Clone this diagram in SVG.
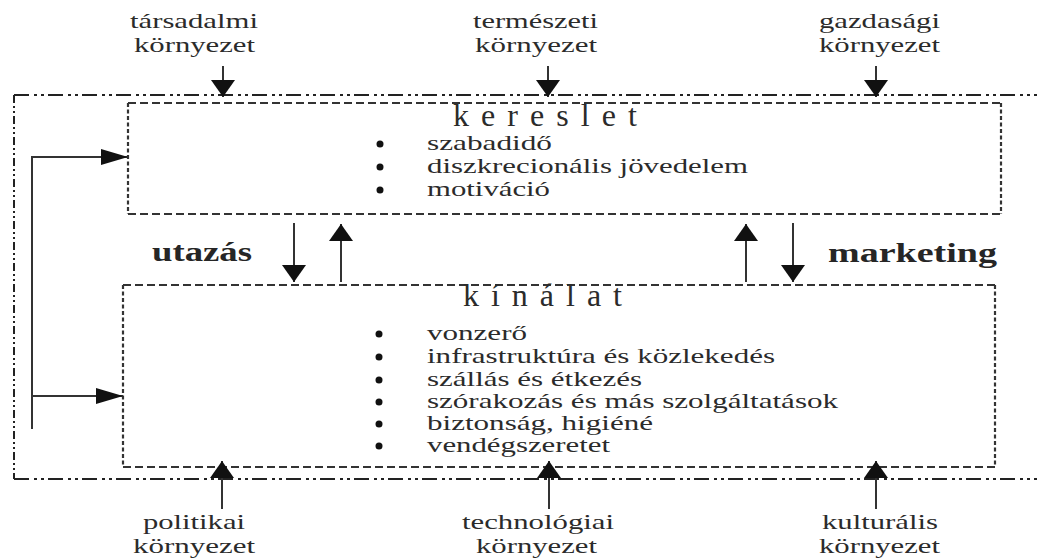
<svg xmlns="http://www.w3.org/2000/svg" width="1037" height="559" viewBox="0 0 1037 559">
<style>
text{font-family:"Liberation Serif","Times New Roman",serif;fill:#2b2b2b}
.lbl{font-size:22px}
.item{font-size:21px}
.title{font-size:32px}
.bold{font-size:28px;font-weight:bold;fill:#262626}
.outer-h{stroke:#222;stroke-width:2;fill:none;stroke-dasharray:15 5 3 4 3 4}
.outer-v{stroke:#222;stroke-width:2;fill:none;stroke-dasharray:8 3 2 3 2 3}
.box-h{stroke:#333;stroke-width:2;fill:none;stroke-dasharray:8 4}
.box-v{stroke:#333;stroke-width:2.2;fill:none;stroke-dasharray:4 2.5}
.arr{stroke:#333;stroke-width:2;fill:none}
.av{marker-end:url(#ahv)}
.ah{marker-end:url(#ahh)}
.dot{fill:#111}
</style>
<defs>
<marker id="ahv" markerUnits="userSpaceOnUse" markerWidth="17" markerHeight="24" refX="17" refY="12" orient="auto" viewBox="0 0 17 24">
<path d="M0,0 L17,12 L0,24 z" fill="#111"/>
</marker>
<marker id="ahh" markerUnits="userSpaceOnUse" markerWidth="27" markerHeight="16" refX="27" refY="8" orient="auto" viewBox="0 0 27 16">
<path d="M0,0 L27,8 L0,16 z" fill="#111"/>
</marker>
</defs>
<rect width="1037" height="559" fill="#fff"/>

<g id="environment">
<line class="outer-h" x1="14" y1="95" x2="1037" y2="95"/>
<line class="outer-h" x1="14" y1="479" x2="1037" y2="479"/>
<line class="outer-v" x1="14" y1="95" x2="14" y2="479"/>
</g>

<g id="tarsadalmi">
<text class="lbl" x="130" y="28" textLength="128" lengthAdjust="spacingAndGlyphs">társadalmi</text>
<text class="lbl" x="134" y="52" textLength="121" lengthAdjust="spacingAndGlyphs">környezet</text>
</g>
<g id="termeszeti">
<text class="lbl" x="473" y="28" textLength="125" lengthAdjust="spacingAndGlyphs">természeti</text>
<text class="lbl" x="475" y="52" textLength="122" lengthAdjust="spacingAndGlyphs">környezet</text>
</g>
<g id="gazdasagi">
<text class="lbl" x="819" y="28" textLength="121" lengthAdjust="spacingAndGlyphs">gazdasági</text>
<text class="lbl" x="819" y="52" textLength="121" lengthAdjust="spacingAndGlyphs">környezet</text>
</g>
<g id="politikai">
<text class="lbl" x="143" y="529" textLength="102" lengthAdjust="spacingAndGlyphs">politikai</text>
<text class="lbl" x="133" y="553" textLength="122" lengthAdjust="spacingAndGlyphs">környezet</text>
</g>
<g id="technologiai">
<text class="lbl" x="462" y="529" textLength="152" lengthAdjust="spacingAndGlyphs">technológiai</text>
<text class="lbl" x="476" y="553" textLength="121" lengthAdjust="spacingAndGlyphs">környezet</text>
</g>
<g id="kulturalis">
<text class="lbl" x="822" y="529" textLength="116" lengthAdjust="spacingAndGlyphs">kulturális</text>
<text class="lbl" x="819" y="553" textLength="121" lengthAdjust="spacingAndGlyphs">környezet</text>
</g>

<g id="kereslet">
<line class="box-h" x1="128" y1="103" x2="1001" y2="103"/>
<line class="box-h" x1="128" y1="214" x2="1001" y2="214"/>
<line class="box-v" x1="128" y1="103" x2="128" y2="214"/>
<line class="box-v" x1="1001" y1="103" x2="1001" y2="214"/>
<text class="title" x="453" y="126" textLength="184">kereslet</text>
<circle class="dot" cx="380" cy="144" r="3.5"/>
<circle class="dot" cx="380" cy="167" r="3.5"/>
<circle class="dot" cx="380" cy="190" r="3.5"/>
<text class="item" x="427" y="150" textLength="125" lengthAdjust="spacingAndGlyphs">szabadidő</text>
<text class="item" x="427" y="173" textLength="321" lengthAdjust="spacingAndGlyphs">diszkrecionális jövedelem</text>
<text class="item" x="427" y="196" textLength="123" lengthAdjust="spacingAndGlyphs">motiváció</text>
</g>

<g id="kinalat">
<line class="box-h" x1="123" y1="285" x2="995" y2="285"/>
<line class="box-h" x1="123" y1="467" x2="995" y2="467"/>
<line class="box-v" x1="123" y1="285" x2="123" y2="467"/>
<line class="box-v" x1="995" y1="285" x2="995" y2="467"/>
<text class="title" x="463" y="306" textLength="159">kínálat</text>
<circle class="dot" cx="379" cy="334" r="3.5"/>
<circle class="dot" cx="379" cy="357" r="3.5"/>
<circle class="dot" cx="379" cy="380" r="3.5"/>
<circle class="dot" cx="379" cy="402" r="3.5"/>
<circle class="dot" cx="379" cy="424" r="3.5"/>
<circle class="dot" cx="379" cy="446" r="3.5"/>
<text class="item" x="427" y="340" textLength="100" lengthAdjust="spacingAndGlyphs">vonzerő</text>
<text class="item" x="427" y="363" textLength="348" lengthAdjust="spacingAndGlyphs">infrastruktúra és közlekedés</text>
<text class="item" x="427" y="386" textLength="215" lengthAdjust="spacingAndGlyphs">szállás és étkezés</text>
<text class="item" x="427" y="408" textLength="411" lengthAdjust="spacingAndGlyphs">szórakozás és más szolgáltatások</text>
<text class="item" x="427" y="430" textLength="226" lengthAdjust="spacingAndGlyphs">biztonság, higiéné</text>
<text class="item" x="427" y="452" textLength="183" lengthAdjust="spacingAndGlyphs">vendégszeretet</text>
</g>

<g id="utazas">
<text class="bold" x="152" y="261" textLength="100" lengthAdjust="spacingAndGlyphs">utazás</text>
</g>
<g id="marketing">
<text class="bold" x="828" y="262" textLength="169" lengthAdjust="spacingAndGlyphs">marketing</text>
</g>

<g id="connectors">
<line class="arr av" x1="223" y1="66" x2="223" y2="97"/>
<line class="arr av" x1="548" y1="66" x2="548" y2="97"/>
<line class="arr av" x1="876" y1="66" x2="876" y2="97"/>
<line class="arr av" x1="222" y1="509" x2="222" y2="461"/>
<line class="arr av" x1="549" y1="509" x2="549" y2="461"/>
<line class="arr av" x1="876" y1="509" x2="876" y2="461"/>
<line class="arr av" x1="294" y1="223" x2="294" y2="282"/>
<line class="arr av" x1="341" y1="282" x2="341" y2="224"/>
<line class="arr av" x1="746" y1="282" x2="746" y2="224"/>
<line class="arr av" x1="793" y1="223" x2="793" y2="282"/>
<path class="arr ah" d="M32,429 V157 H128"/>
<line class="arr ah" x1="32" y1="396" x2="123" y2="396"/>
</g>
</svg>
